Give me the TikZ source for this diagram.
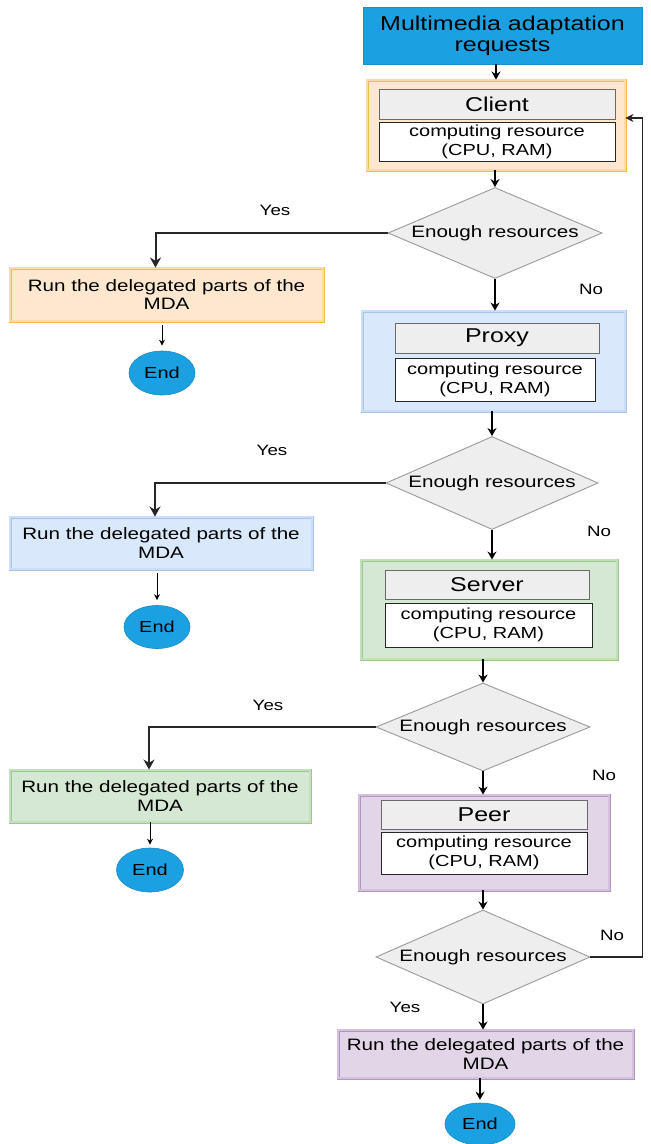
\documentclass[tikz,border=0pt]{standalone}
\usepackage{fontspec}
\setmainfont{Liberation Sans}[FakeStretch=1.25]
\usetikzlibrary{shapes.geometric,arrows.meta}
\definecolor{blueT}{HTML}{1BA1E2}
\definecolor{orangeF}{HTML}{FDE8CF}
\definecolor{orangeD}{HTML}{F0BC4C}
\definecolor{blueF}{HTML}{DAE8FC}
\definecolor{blueD}{HTML}{A9C4EB}
\definecolor{greenF}{HTML}{D5E8D4}
\definecolor{greenD}{HTML}{9AC98C}
\definecolor{purpF}{HTML}{E1D5E7}
\definecolor{purpD}{HTML}{B594C4}
\definecolor{grayF}{HTML}{EEEEEE}
\definecolor{grayD}{HTML}{6A6A6A}
\definecolor{diaD}{HTML}{9A9A9A}
\begin{document}
\begin{tikzpicture}[x=1pt,y=-1pt,
  sz/.style 2 args={minimum width=#1pt, minimum height=#2pt},
  grp/.style 2 args={rectangle, draw=#1, line width=0.9pt, double=#2!70!#1, double distance=1.2pt, fill=#2, inner sep=0pt},
  lbl/.style={rectangle, draw=grayD, line width=1pt, fill=grayF, inner sep=0pt, font=\fontsize{20}{22}\selectfont},
  res/.style={rectangle, draw=black!85, line width=1pt, fill=white, inner sep=0pt, align=center, font=\fontsize{16}{19}\selectfont},
  runbox/.style 2 args={grp={#1}{#2}, align=center, font=\fontsize{16.5}{18.5}\selectfont},
  dec/.style={diamond, aspect=2.4, draw=diaD, line width=0.9pt, fill=grayF, inner sep=0pt, font=\fontsize{16.5}{18}\selectfont},
  endn/.style={ellipse, draw=blueT!85!black, line width=0.6pt, fill=blueT, inner sep=0pt, font=\fontsize{16}{18}\selectfont},
  arr/.style={line width=1.6pt, -{Stealth[length=8pt,width=9pt]}},
  yesarr/.style={line width=2pt, draw=black!85, -{Stealth[length=10pt,width=11pt]}},
  sarr/.style={line width=0.9pt, -{Stealth[length=6pt,width=6pt]}},
  fb/.style={line width=1.2pt, draw=black!85, -{Stealth[length=8pt,width=8pt]}},
  lab/.style={inner sep=0pt, font=\fontsize{15}{17}\selectfont}
]
\useasboundingbox (0,0) rectangle (651,1144);
\fill[white] (0,0) rectangle (651,1144);

% title
\node[rectangle, fill=blueT, draw=blueT!90!black, line width=0.6pt, sz={279}{57}, align=center, font=\fontsize{20}{21}\selectfont] (title) at (502.5,35.5) {Multimedia adaptation\\requests};

% Client
\node[grp={orangeD}{orangeF}, sz={258}{90}] (client) at (496,125) {};
\node[lbl, sz={236}{30}] (clientL) at (497,104) {Client};
\node[res, sz={236}{39}] (clientR) at (497,141.5) {computing resource\\(CPU, RAM)};

\node[dec, sz={214}{91}] (d1) at (495,233) {Enough resources};
\node[runbox={orangeD}{orangeF}, sz={313}{53}] (run1) at (166.5,294.5) {Run the delegated parts of the\\MDA};
\node[endn, sz={66}{44}] (end1) at (162,373) {End};

% Proxy
\node[grp={blueD}{blueF}, sz={263}{100}] (proxy) at (493.5,361) {};
\node[lbl, sz={204}{30}] (proxyL) at (497,338) {Proxy};
\node[res, sz={200}{43}] (proxyR) at (495,379.5) {computing resource\\(CPU, RAM)};

\node[dec, sz={212}{93}] (d2) at (492,483) {Enough resources};
\node[runbox={blueD}{blueF}, sz={302}{52}] (run2) at (161,543) {Run the delegated parts of the\\MDA};
\node[endn, sz={66}{43}] (end2) at (157,627) {End};

% Server
\node[grp={greenD}{greenF}, sz={256}{99}] (server) at (489,609.5) {};
\node[lbl, sz={204}{29}] (serverL) at (487,584.5) {Server};
\node[res, sz={207}{44}] (serverR) at (488.5,625) {computing resource\\(CPU, RAM)};

\node[dec, sz={214}{88}] (d3) at (483,727) {Enough resources};
\node[runbox={greenD}{greenF}, sz={300}{52}] (run3) at (160,796) {Run the delegated parts of the\\MDA};
\node[endn, sz={67}{44}] (end3) at (150,870) {End};

% Peer
\node[grp={purpD}{purpF}, sz={250}{95}] (peer) at (484,842.5) {};
\node[lbl, sz={206}{29}] (peerL) at (484,814.5) {Peer};
\node[res, sz={206}{42}] (peerR) at (484,853) {computing resource\\(CPU, RAM)};

\node[dec, sz={214}{94}] (d4) at (483,957) {Enough resources};
\node[runbox={purpD}{purpF}, sz={295}{48}] (run4) at (485.5,1054) {Run the delegated parts of the\\MDA};
\node[endn, sz={70}{42}] (end4) at (480,1124) {End};

% labels
\node[lab] (yes1) at (275,210) {Yes};
\node[lab] (yes2) at (272,450) {Yes};
\node[lab] (yes3) at (268,705) {Yes};
\node[lab] (yes4) at (405,1007) {Yes};
\node[lab] (no1) at (591,289) {No};
\node[lab] (no2) at (599,531) {No};
\node[lab] (no3) at (604,775) {No};
\node[lab] (no4) at (612,935) {No};

% connectors
\draw[arr] (client.north |- title.south) -- (client.north);
\draw[arr] (d1.north |- client.south) -- (d1.north);
\draw[yesarr] (d1.west) -| ([xshift=-11pt]run1.north);
\draw[sarr, shorten <=4pt, shorten >=5pt] (end1.north |- run1.south) -- (end1.north);
\draw[arr] (d1.south) -- (d1.south |- proxy.north);

\draw[arr] (d2.north |- proxy.south) -- (d2.north);
\draw[yesarr] (d2.west) -| ([xshift=-6pt]run2.north);
\draw[sarr, shorten <=4pt, shorten >=5pt] (end2.north |- run2.south) -- (end2.north);
\draw[arr] (d2.south) -- (d2.south |- server.north);

\draw[arr] (d3.north |- server.south) -- (d3.north);
\draw[yesarr] (d3.west) -| ([xshift=-11pt]run3.north);
\draw[sarr, shorten >=3pt] (end3.north |- run3.south) -- (end3.north);
\draw[arr] (d3.south) -- (d3.south |- peer.north);

\draw[arr] (d4.north |- peer.south) -- (d4.north);
\draw[arr] (d4.south) -- (d4.south |- run4.north);
\draw[arr, shorten >=3pt] (end4.north |- run4.south) -- (end4.north);
\draw[fb] (d4.east) -- ++(52,0) |- ([yshift=7pt]client.east);
\end{tikzpicture}
\end{document}
